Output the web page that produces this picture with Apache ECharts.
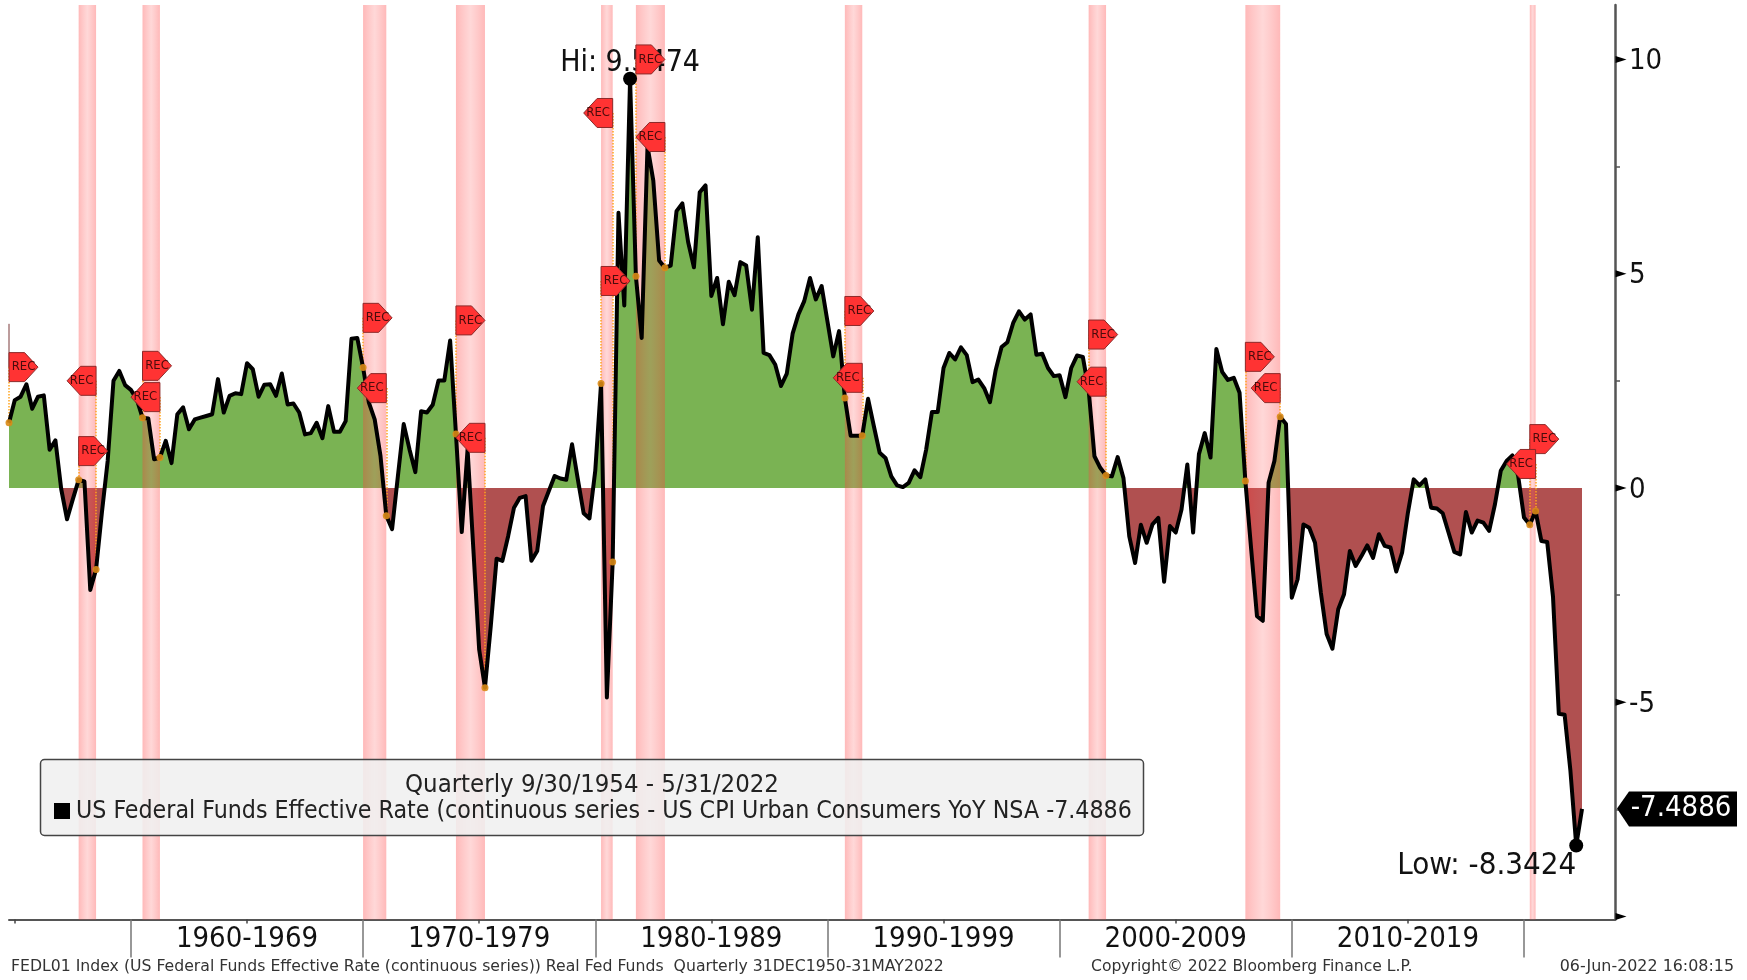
<!DOCTYPE html>
<html>
<head>
<meta charset="utf-8">
<title>Real Fed Funds</title>
<script src="https://cdn.jsdelivr.net/npm/echarts@6/dist/echarts.min.js"></script>
<style>
    html, body { margin: 0; padding: 0; background: #fff; }
    #chart { width: 1747px; height: 980px; }
</style>
</head>
<body>
<div id="chart"></div>
<script>
    // quarterly real fed funds. first point is 1954.75
    var firstQuarter = 1954.75;
    var rate1950s = [1.52,2.05,2.13,2.42,1.85,2.13,2.16,0.89,1.11,-0.03,-0.73,-0.26,0.19,0.15,-2.38,-1.9,-0.58,0.63,2.5,2.73,2.4];
    var rate1960s = [2.29,2.07,1.64,1.62,0.67,0.71,1.1,0.58,1.72,1.88,1.37,1.6,1.64,1.68,1.72,2.54,1.76,2.15,2.21,2.19,2.91,2.77,2.13,2.41,2.42,2.15,2.67,1.95,1.97,1.76,1.25,1.28,1.52,1.16,1.91,1.31,1.31,1.56,3.48,3.5];
    var rate1970s = [2.81,1.99,1.6,0.75,-0.65,-0.96,0.28,1.49,0.9,0.37,1.79,1.76,1.94,2.51,2.51,3.44,1.26,-1.03,0.9,-1.43,-3.77,-4.66,-3.22,-1.65,-1.7,-1.12,-0.46,-0.23,-0.19,-1.7,-1.47,-0.42,-0.07,0.28,0.22,0.19,1.02,0.2,-0.59,-0.71];
    var rate1980s = [0.4,2.44,-4.89,-1.73,6.42,4.26,9.5474,4.94,3.5,7.97,7.17,5.31,5.14,5.19,6.46,6.64,5.74,5.15,6.9,7.06,4.48,4.9,3.82,4.81,4.5,5.27,5.19,4.16,5.85,3.15,3.1,2.88,2.38,2.67,3.6,4.05,4.36,4.9,4.4,4.71];
    var rate1990s = [3.89,3.07,3.66,2.1,1.22,1.22,1.22,2.08,1.44,0.82,0.7,0.27,0.06,0.02,0.12,0.41,0.25,0.89,1.77,1.77,2.8,3.15,3.0,3.28,3.1,2.47,2.53,2.33,2.0,2.76,3.29,3.4,3.85,4.12,3.93,4.05,3.11,3.13,2.8,2.61];
    var rate2000s = [2.63,2.12,2.8,3.09,3.06,2.29,0.74,0.47,0.29,0.27,0.72,0.23,-1.13,-1.75,-0.86,-1.28,-0.85,-0.7,-2.19,-0.89,-1.04,-0.5,0.55,-1.04,0.79,1.28,0.71,3.24,2.71,2.52,2.57,2.22,0.16,-1.43,-2.99,-3.1,0.12,0.63,1.66,1.49];
    var rate2010s = [-2.56,-2.13,-0.85,-0.93,-1.28,-2.44,-3.41,-3.75,-2.83,-2.48,-1.47,-1.82,-1.59,-1.34,-1.63,-1.08,-1.35,-1.39,-1.95,-1.51,-0.58,0.2,0.06,0.2,-0.46,-0.48,-0.59,-1.04,-1.49,-1.55,-0.56,-1.04,-0.76,-0.81,-1.0,-0.38,0.4,0.63,0.76,0.28];
    var rate2020s = [-0.69,-0.86,-0.54,-1.24,-1.26,-2.54,-5.27,-5.29,-6.6,-8.3424,-7.4886];

    // recessions
    var recStart = [1957.75,1960.5,1970,1974,1980.25,1981.75,1990.75,2001.25,2008,2020.25];
    var recEnd = [1958.5,1961.25,1971,1975.25,1980.75,1983,1991.5,2002,2009.5,2020.5];
    // heights of the REC flags on the value axis. the first right flag sits on the first data point
    var startFlagYears = [1954.75].concat(recStart);
    var startFlagLevels = [2.82,0.86,2.85,3.97,3.91,4.83,10.0,4.13,3.58,3.06,1.14];
    var endFlagLevels = [2.5,2.12,2.33,1.17,8.75,8.19,2.57,2.48,2.33,0.56];
    var stubLevels = [2.82,3.83];

    var decadeTicks = [1960,1970,1980,1990,2000,2010,2020];
    var midDecadeTicks = [1955,1965,1975,1985,1995,2005,2015];
    var decadeLabels = [1965,1975,1985,1995,2005,2015];
    var yLabels = [-5,0,5,10];
    var yMajorTicks = [-10,-5,0,5,10];
    var yMinorTicks = [-7.5,-2.5,2.5,7.5];

    var FONT = '"DejaVu Sans Condensed", "DejaVu Sans", sans-serif';
    var SMALL_FONT = '"DejaVu Sans", sans-serif';
    var xMin = 1954.75, xMax = 2023.92, yMin = -10.07, yMax = 11.27;

    var rates = rate1950s.concat(rate1960s, rate1970s, rate1980s, rate1990s, rate2000s, rate2010s, rate2020s);
    var points = rates.map(function (v, i) { return [firstQuarter + i * 0.25, v]; });
    function rateAt(year) { return rates[Math.round((year - firstQuarter) * 4)]; }
    var lastRate = rates[rates.length - 1];
    var hi = Math.max.apply(null, rates), lo = Math.min.apply(null, rates);
    var zeroStop = hi / (hi - lo);

    var bandFill = new echarts.graphic.LinearGradient(0, 0, 1, 0, [
        { offset: 0, color: 'rgba(255,60,60,0.36)' },
        { offset: 0.5, color: 'rgba(255,110,110,0.27)' },
        { offset: 1, color: 'rgba(255,60,60,0.36)' }
    ]);
    var leader = { type: 'dotted', color: '#ffa41f', width: 1.5 };

    function flagSeries(years, levels, path, offset) {
        return {
            type: 'scatter',
            z: 8,
            clip: false,
            symbol: path,
            symbolSize: [29, 29],
            symbolOffset: [offset, 0],
            itemStyle: { color: '#ff3333', borderColor: '#8c2a2a', borderWidth: 1, opacity: 1 },
            label: { show: true, position: 'inside', formatter: 'REC', fontFamily: FONT, fontSize: 13, color: '#4a0c0c' },
            data: years.map(function (y, i) { return [y, levels[i]]; }),
            markLine: {
                silent: true,
                z: 4,
                symbol: 'none',
                label: { show: false },
                lineStyle: leader,
                data: years.map(function (y, i) {
                    return [{ coord: [y, levels[i]] }, { coord: [y, rateAt(y)] }];
                })
            }
        };
    }

    var chart = echarts.init(document.getElementById('chart'));
    chart.setOption({
        animation: false,
        backgroundColor: '#fff',
        grid: { left: 9, right: 132, top: 5, bottom: 60.5 },
        textStyle: { fontFamily: FONT },
        xAxis: [{
            type: 'value', min: xMin, max: xMax,
            splitLine: { show: false },
            axisLine: { onZero: false, lineStyle: { color: '#555', width: 2 } },
            axisTick: { customValues: decadeTicks, length: 38, lineStyle: { color: '#777', width: 1.5 } },
            axisLabel: { show: false }
        }, {
            type: 'value', min: xMin, max: xMax, position: 'bottom',
            splitLine: { show: false },
            axisLine: { show: false, onZero: false },
            axisTick: { customValues: midDecadeTicks, length: 4, lineStyle: { color: '#444', width: 1.5 } },
            axisLabel: {
                customValues: decadeLabels, margin: 5, fontSize: 29, color: '#111', fontFamily: FONT,
                formatter: function (v) { return (v - 5) + '-' + (v + 4); }
            }
        }],
        yAxis: {
            type: 'value', position: 'right', min: yMin, max: yMax,
            splitLine: { show: false },
            axisLine: { show: true, onZero: false, lineStyle: { color: '#555', width: 2.5 } },
            axisTick: { customValues: yMinorTicks, length: 5, lineStyle: { color: '#555', width: 1.5 } },
            axisLabel: {
                customValues: yLabels, margin: 14,
                formatter: '{v|{value}}',
                rich: { v: { fontSize: 29, color: '#111', fontFamily: FONT, padding: [4.5, 0, 0, 0] } }
            }
        },
        series: [{
            // green / red fill, no line. bands go on top of this
            type: 'line',
            z: 1,
            symbol: 'none',
            lineStyle: { width: 0 },
            areaStyle: {
                opacity: 1,
                color: new echarts.graphic.LinearGradient(0, 0, 0, 1, [
                    { offset: 0, color: '#7ab353' },
                    { offset: zeroStop, color: '#7ab353' },
                    { offset: zeroStop, color: '#b05050' },
                    { offset: 1, color: '#b05050' }
                ])
            },
            data: points,
            markArea: {
                silent: true,
                z: 2,
                itemStyle: { color: bandFill },
                data: recStart.map(function (s, i) {
                    return [{ xAxis: s, yAxis: yMin }, { xAxis: recEnd[i], yAxis: yMax }];
                })
            }
        }, {
            type: 'line',
            z: 5,
            symbol: 'none',
            lineStyle: { color: '#000', width: 4, join: 'round' },
            data: points,
            markPoint: {
                silent: true,
                z: 6,
                symbol: 'circle',
                symbolSize: 14,
                itemStyle: { color: '#000' },
                data: [{
                    type: 'max',
                    label: {
                        position: 'top', distance: -6, fontSize: 30, color: '#111', fontFamily: FONT,
                        formatter: function (p) { return 'Hi: ' + p.value; }
                    }
                }, {
                    type: 'min',
                    label: {
                        position: [7, 12], align: 'right', fontSize: 31, color: '#111', fontFamily: FONT,
                        formatter: function (p) { return 'Low: ' + p.value; }
                    }
                }]
            }
        }, {
            // thin stub above the first flag
            type: 'line',
            z: 4,
            symbol: 'none',
            lineStyle: { color: '#7a3a3a', width: 1 },
            data: stubLevels.map(function (v) { return [firstQuarter, v]; })
        },
        flagSeries(startFlagYears, startFlagLevels, 'path://M0 0L15 0L28 14L15 28L0 28Z', 14.5),
        flagSeries(recEnd, endFlagLevels, 'path://M28 0L13 0L0 14L13 28L28 28Z', -14.5),
        {
            // small orange dots where the recession dates meet the line
            type: 'scatter',
            z: 7,
            symbolSize: 7,
            itemStyle: { color: '#d98a16', opacity: 0.9 },
            data: startFlagYears.concat(recEnd).map(function (y) { return [y, rateAt(y)]; })
        }, {
            // arrow ticks on the right axis
            type: 'scatter',
            z: 9,
            clip: false,
            symbol: 'path://M0 0L11 4L0 8Z',
            symbolSize: [11, 7],
            symbolOffset: [6, 0],
            itemStyle: { color: '#000', opacity: 1 },
            data: yMajorTicks.map(function (v) { return [xMax, v]; })
        }, {
            // black tag with last value
            type: 'scatter',
            z: 9,
            clip: false,
            symbol: 'path://M0 17L12 0L120 0L120 35L12 35Z',
            symbolSize: [120, 35],
            symbolOffset: [62, 0],
            itemStyle: { color: '#000', opacity: 1 },
            label: {
                show: true, position: 'inside', offset: [4, 0], fontSize: 29, color: '#fff', fontFamily: FONT,
                formatter: function () { return String(lastRate); }
            },
            data: [[xMax, lastRate]]
        }],
        graphic: [
            {
                type: 'rect', z: 10,
                shape: { x: 40.5, y: 759.5, width: 1103, height: 76, r: 4 },
                style: { fill: 'rgba(240,240,240,0.86)', stroke: '#444', lineWidth: 1.5 }
            },
            {
                type: 'text', z: 11, x: 592, y: 785,
                style: { text: 'Quarterly 9/30/1954 - 5/31/2022', font: '25.5px ' + FONT, fill: '#222', textAlign: 'center', textVerticalAlign: 'middle' }
            },
            {
                type: 'rect', z: 11,
                shape: { x: 54, y: 803, width: 16, height: 16 },
                style: { fill: '#000' }
            },
            {
                type: 'text', z: 11, x: 76, y: 812,
                style: { text: 'US Federal Funds Effective Rate (continuous series - US CPI Urban Consumers YoY NSA -7.4886', font: '24.7px ' + FONT, fill: '#222', textAlign: 'left', textVerticalAlign: 'middle' }
            },
            {
                type: 'text', z: 11, x: 11, y: 967,
                style: { text: 'FEDL01 Index (US Federal Funds Effective Rate (continuous series)) Real Fed Funds  Quarterly 31DEC1950-31MAY2022', font: '15.7px ' + SMALL_FONT, fill: '#333', textAlign: 'left', textVerticalAlign: 'middle' }
            },
            {
                type: 'text', z: 11, x: 1091, y: 967,
                style: { text: 'Copyright\u00a9 2022 Bloomberg Finance L.P.', font: '15.6px ' + SMALL_FONT, fill: '#333', textAlign: 'left', textVerticalAlign: 'middle' }
            },
            {
                type: 'text', z: 11, x: 1734, y: 967,
                style: { text: '06-Jun-2022 16:08:15', font: '15.9px ' + SMALL_FONT, fill: '#333', textAlign: 'right', textVerticalAlign: 'middle' }
            }
        ]
    });
</script>
</body>
</html>
